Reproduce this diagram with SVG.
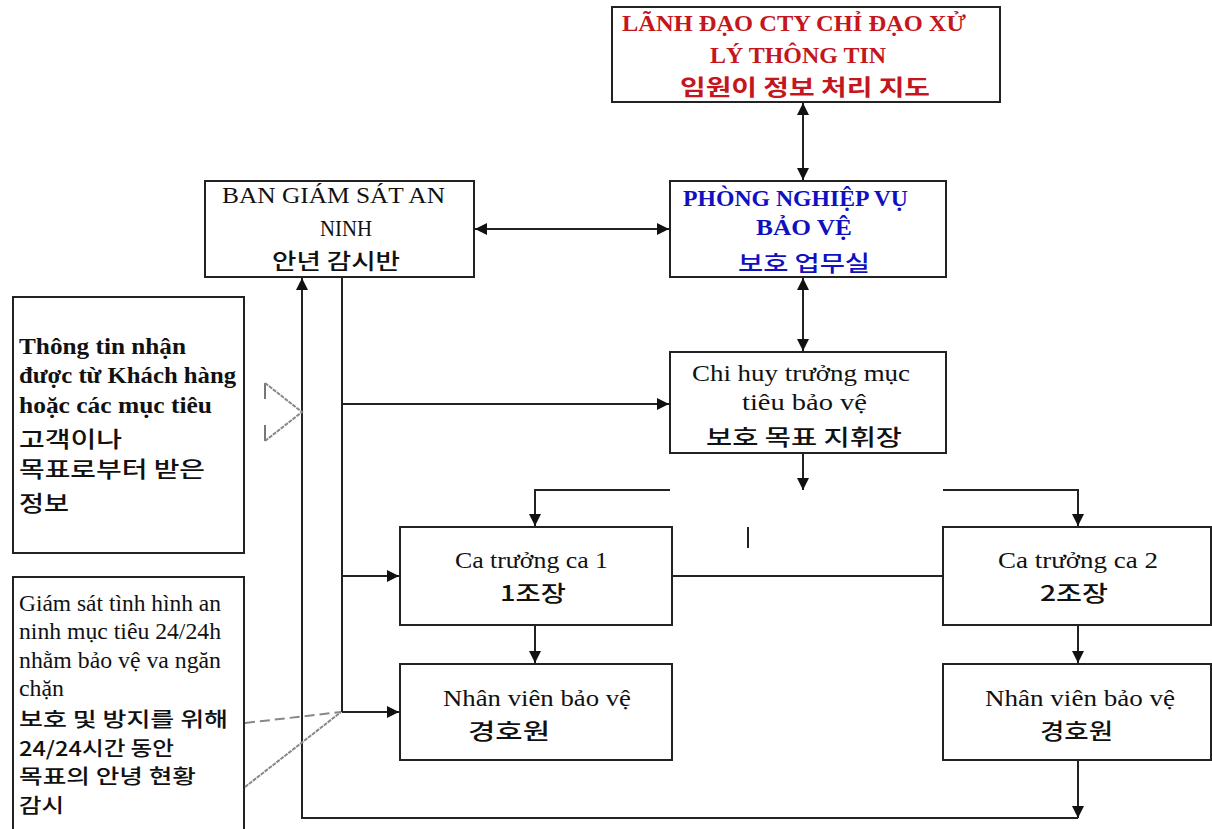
<svg xmlns="http://www.w3.org/2000/svg" width="1212" height="829" viewBox="0 0 1212 829">
<style>
.box{fill:#fff;stroke:#222;stroke-width:2}
.t{font-family:"Liberation Serif","Noto Sans CJK KR",serif;font-size:24px;fill:#111}
.k{font-family:"Noto Sans CJK KR","Noto Sans",sans-serif;font-size:22px;font-weight:500;fill:#111}
.ks{font-size:20px}
.b{font-weight:bold}
.red{fill:#c4161c}
.blue{fill:#1010c0}
.ln{fill:none;stroke:#222;stroke-width:2}
.g1{fill:none;stroke:#888;stroke-width:2;stroke-dasharray:10 5}
.g2{fill:none;stroke:#888;stroke-width:2;stroke-dasharray:4 1}
.g3{fill:none;stroke:#777;stroke-width:2}
</style>
<defs>
<marker id="ah" viewBox="0 0 10 10" refX="10" refY="5" markerWidth="6" markerHeight="6" orient="auto-start-reverse" markerUnits="strokeWidth">
<path d="M0,0 L10,5 L0,10 z" fill="#111"/>
</marker>
</defs>
<rect width="1212" height="829" fill="#fff"/>

<g id="node-leader">
<rect class="box" x="612" y="7" width="388" height="95"/>
<text class="t b red" x="622" y="31" textLength="344" lengthAdjust="spacingAndGlyphs">LÃNH ĐẠO CTY CHỈ ĐẠO XỬ</text>
<text class="t b red" x="710" y="63" textLength="176" lengthAdjust="spacingAndGlyphs">LÝ THÔNG TIN</text>
<text class="k b red" x="680" y="95" textLength="250" lengthAdjust="spacingAndGlyphs">임원이 정보 처리 지도</text>
</g>

<g id="node-ban">
<rect class="box" x="205" y="181" width="269" height="96"/>
<text class="t" x="222" y="203" textLength="223" lengthAdjust="spacingAndGlyphs">BAN GIÁM SÁT AN</text>
<text class="t" x="320" y="236" textLength="52" lengthAdjust="spacingAndGlyphs">NINH</text>
<text class="k" x="272" y="269" textLength="128" lengthAdjust="spacingAndGlyphs">안년 감시반</text>
</g>

<g id="node-phong">
<rect class="box" x="670" y="181" width="276" height="96"/>
<text class="t b blue" x="683" y="206" textLength="225" lengthAdjust="spacingAndGlyphs">PHÒNG NGHIỆP VỤ</text>
<text class="t b blue" x="756" y="235" textLength="96" lengthAdjust="spacingAndGlyphs">BẢO VỆ</text>
<text class="k blue" x="738" y="271" textLength="132" lengthAdjust="spacingAndGlyphs">보호 업무실</text>
</g>

<g id="node-chihuy">
<rect class="box" x="670" y="352" width="276" height="101"/>
<text class="t" x="692" y="381" textLength="218" lengthAdjust="spacingAndGlyphs">Chi huy trưởng mục</text>
<text class="t" x="742" y="410" textLength="125" lengthAdjust="spacingAndGlyphs">tiêu bảo vệ</text>
<text class="k" x="706" y="445" textLength="196" lengthAdjust="spacingAndGlyphs">보호 목표 지휘장</text>
</g>

<g id="node-ca1">
<rect class="box" x="400" y="527" width="272" height="98"/>
<text class="t" x="455" y="568" textLength="153" lengthAdjust="spacingAndGlyphs">Ca trưởng ca 1</text>
<text class="k" x="500" y="601" textLength="66" lengthAdjust="spacingAndGlyphs">1조장</text>
</g>

<g id="node-ca2">
<rect class="box" x="943" y="527" width="268" height="98"/>
<text class="t" x="998" y="568" textLength="160" lengthAdjust="spacingAndGlyphs">Ca trưởng ca 2</text>
<text class="k" x="1040" y="601" textLength="68" lengthAdjust="spacingAndGlyphs">2조장</text>
</g>

<g id="node-nv1">
<rect class="box" x="400" y="664" width="272" height="96"/>
<text class="t" x="443" y="706" textLength="188" lengthAdjust="spacingAndGlyphs">Nhân viên bảo vệ</text>
<text class="k" x="468" y="739" textLength="82" lengthAdjust="spacingAndGlyphs">경호원</text>
</g>

<g id="node-nv2">
<rect class="box" x="943" y="664" width="268" height="96"/>
<text class="t" x="985" y="706" textLength="190" lengthAdjust="spacingAndGlyphs">Nhân viên bảo vệ</text>
<text class="k" x="1040" y="739" textLength="73" lengthAdjust="spacingAndGlyphs">경호원</text>
</g>

<g id="node-info">
<rect class="box" x="13" y="297" width="231" height="256"/>
<text class="t b" x="19" y="354" textLength="167" lengthAdjust="spacingAndGlyphs">Thông tin nhận</text>
<text class="t b" x="19" y="383" textLength="217" lengthAdjust="spacingAndGlyphs">được từ Khách hàng</text>
<text class="t b" x="19" y="413" textLength="193" lengthAdjust="spacingAndGlyphs">hoặc các mục tiêu</text>
<text class="k" x="19" y="447" textLength="103" lengthAdjust="spacingAndGlyphs">고객이나</text>
<text class="k" x="19" y="477" textLength="186" lengthAdjust="spacingAndGlyphs">목표로부터 받은</text>
<text class="k" x="19" y="511" textLength="50" lengthAdjust="spacingAndGlyphs">정보</text>
</g>

<g id="node-monitor">
<rect class="box" x="13" y="577" width="231" height="260"/>
<text class="t" x="19" y="611" textLength="202" lengthAdjust="spacingAndGlyphs">Giám sát tình hình an</text>
<text class="t" x="19" y="639" textLength="202" lengthAdjust="spacingAndGlyphs">ninh mục tiêu 24/24h</text>
<text class="t" x="19" y="668" textLength="202" lengthAdjust="spacingAndGlyphs">nhằm bảo vệ va ngăn</text>
<text class="t" x="19" y="696" textLength="45" lengthAdjust="spacingAndGlyphs">chặn</text>
<text class="k ks" x="19" y="727" textLength="209" lengthAdjust="spacingAndGlyphs">보호 및 방지를 위해</text>
<text class="k ks" x="19" y="756" textLength="155" lengthAdjust="spacingAndGlyphs">24/24시간 동안</text>
<text class="k ks" x="19" y="784" textLength="177" lengthAdjust="spacingAndGlyphs">목표의 안녕 현황</text>
<text class="k ks" x="19" y="813" textLength="45" lengthAdjust="spacingAndGlyphs">감시</text>
</g>

<g id="connectors">
<line class="ln" x1="803" y1="103" x2="803" y2="180" marker-start="url(#ah)" marker-end="url(#ah)"/>
<line class="ln" x1="475" y1="229" x2="669" y2="229" marker-start="url(#ah)" marker-end="url(#ah)"/>
<line class="ln" x1="803" y1="278" x2="803" y2="351" marker-start="url(#ah)" marker-end="url(#ah)"/>
<line class="ln" x1="803" y1="453" x2="803" y2="490" marker-end="url(#ah)"/>
<polyline class="ln" points="670,490 535,490 535,526" marker-end="url(#ah)"/>
<polyline class="ln" points="943,490 1078,490 1078,526" marker-end="url(#ah)"/>
<line class="ln" x1="748" y1="527" x2="748" y2="548"/>
<line class="ln" x1="672" y1="576" x2="943" y2="576"/>
<line class="ln" x1="535" y1="625" x2="535" y2="663" marker-end="url(#ah)"/>
<line class="ln" x1="1078" y1="625" x2="1078" y2="663" marker-end="url(#ah)"/>
<line class="ln" x1="342" y1="277" x2="342" y2="712"/>
<line class="ln" x1="342" y1="404" x2="669" y2="404" marker-end="url(#ah)"/>
<line class="ln" x1="342" y1="576" x2="399" y2="576" marker-end="url(#ah)"/>
<line class="ln" x1="342" y1="712" x2="399" y2="712" marker-end="url(#ah)"/>
<line class="ln" x1="1078" y1="760" x2="1078" y2="818" marker-end="url(#ah)"/>
<polyline class="ln" points="1078,818 302,818 302,278" marker-end="url(#ah)"/>
</g>

<g id="callouts">
<path class="g3" d="M265,399 V383 M265,425 V441"/>
<path class="g2" d="M265,383 L302,412 L265,441"/>
<path class="g1" d="M245,723 L341,712"/>
<path class="g2" d="M245,787 L341,712"/>
</g>
</svg>
